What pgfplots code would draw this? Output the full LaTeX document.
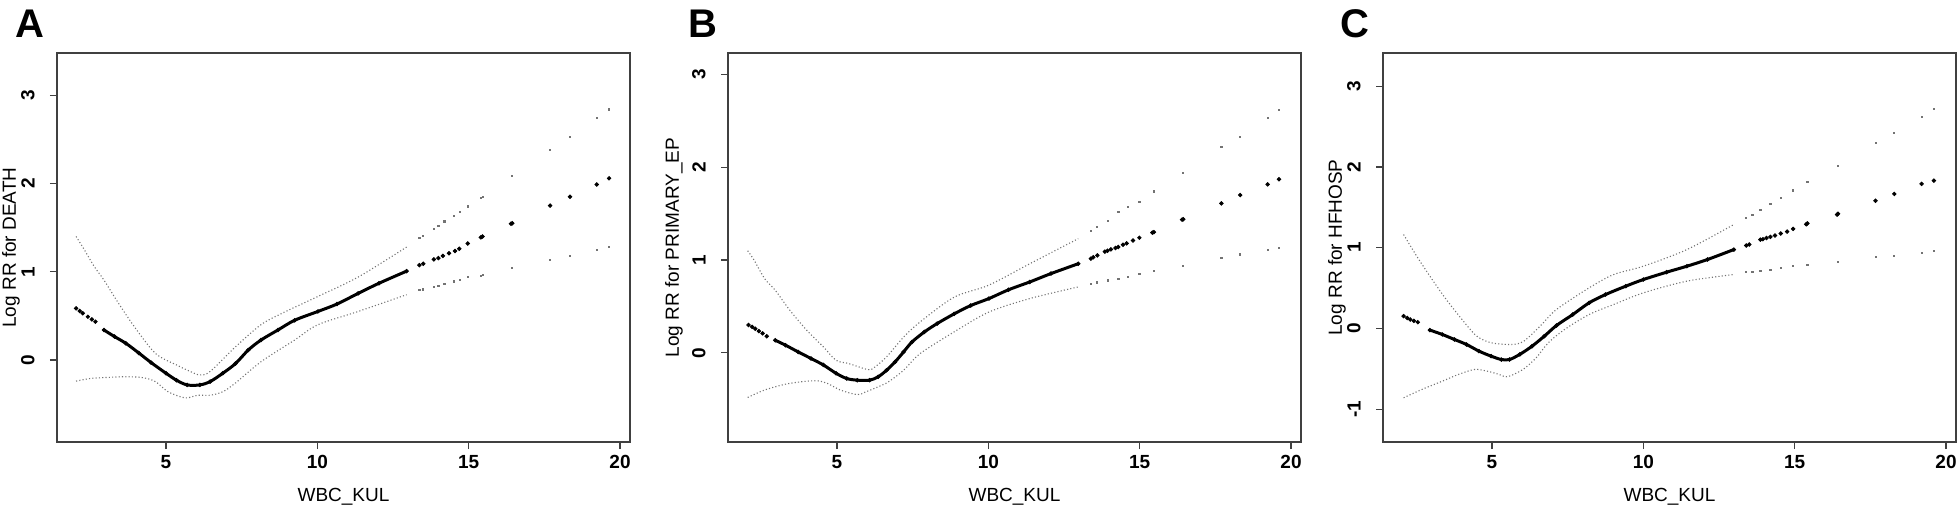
\documentclass[border=0pt]{standalone}
\usepackage{pgfplots}
\pgfplotsset{compat=1.18}
\usepackage{pgfplotstable}
\usepackage{fontspec}
\setmainfont{Liberation Sans}

% ---------------- Panel A (DEATH) ----------------
\pgfplotstableread{
x y
2.03 0.585
2.15 0.555
2.25 0.53
2.42 0.49
2.55 0.46
2.67 0.434
2.95 0.34
3.30 0.265
3.67 0.19
4.10 0.08
4.51 -0.03
5.00 -0.15
5.35 -0.23
5.70 -0.283
6.12 -0.283
6.46 -0.245
6.88 -0.15
7.30 -0.04
7.72 0.113
8.14 0.226
8.70 0.34
9.25 0.45
10.02 0.55
10.65 0.634
11.35 0.755
12.04 0.87
12.95 1.007
13.37 1.075
13.50 1.09
13.85 1.14
14.00 1.155
14.15 1.18
14.35 1.21
14.55 1.235
14.69 1.26
14.97 1.32
15.40 1.39
15.46 1.40
16.40 1.545
16.44 1.55
17.69 1.75
18.35 1.85
19.23 1.99
19.64 2.06
}\mainA
\pgfplotstableread{
x y
2.03 1.40
2.25 1.28
2.63 1.06
2.95 0.906
3.40 0.66
3.95 0.38
4.65 0.075
5.35 -0.057
5.80 -0.13
6.12 -0.17
6.46 -0.13
7.30 0.15
8.14 0.40
8.84 0.53
10.02 0.72
11.35 0.94
12.95 1.28
13.37 1.38
13.50 1.41
13.85 1.49
14.00 1.52
14.20 1.57
14.50 1.63
14.70 1.68
14.97 1.74
15.40 1.84
15.46 1.85
16.44 2.09
17.69 2.38
18.35 2.53
19.23 2.74
19.64 2.84
}\upA
\pgfplotstableread{
x y
2.03 -0.24
2.50 -0.21
2.95 -0.20
3.67 -0.19
4.23 -0.20
4.65 -0.245
5.07 -0.36
5.63 -0.43
6.05 -0.40
6.46 -0.40
6.88 -0.36
7.30 -0.26
8.14 -0.02
9.25 0.226
10.02 0.40
11.35 0.55
12.95 0.74
13.37 0.79
13.50 0.80
13.85 0.83
14.00 0.84
14.20 0.86
14.50 0.89
14.70 0.91
14.97 0.94
15.40 0.955
15.46 0.96
16.44 1.04
17.69 1.13
18.35 1.18
19.23 1.25
19.64 1.28
}\loA

% ---------------- Panel B (PRIMARY_EP) ----------------
\pgfplotstableread{
x y
2.08 0.30
2.20 0.28
2.30 0.26
2.42 0.235
2.54 0.21
2.68 0.18
2.96 0.136
3.30 0.083
3.72 0.01
4.14 -0.06
4.55 -0.13
4.97 -0.22
5.32 -0.276
5.67 -0.294
6.08 -0.294
6.36 -0.258
6.64 -0.187
6.92 -0.097
7.20 0.01
7.48 0.118
7.89 0.226
8.31 0.316
8.87 0.42
9.42 0.51
10.02 0.585
10.67 0.68
11.37 0.764
12.07 0.854
12.97 0.96
13.39 1.015
13.47 1.03
13.60 1.05
13.85 1.09
13.94 1.10
14.05 1.115
14.20 1.13
14.29 1.14
14.45 1.165
14.57 1.18
14.78 1.21
14.99 1.24
15.42 1.295
15.47 1.30
16.40 1.435
16.44 1.44
17.70 1.61
18.32 1.70
19.23 1.815
19.60 1.87
}\mainB
\pgfplotstableread{
x y
2.05 1.10
2.26 1.00
2.61 0.80
2.96 0.675
3.44 0.46
4.00 0.244
4.55 0.065
4.97 -0.08
5.39 -0.115
6.02 -0.18
6.22 -0.16
6.64 -0.043
7.20 0.17
7.75 0.334
8.87 0.60
10.02 0.73
11.37 0.96
12.97 1.23
13.39 1.31
13.60 1.36
13.94 1.42
14.30 1.52
14.60 1.57
14.99 1.625
15.47 1.74
16.44 1.94
17.70 2.22
18.32 2.33
19.23 2.53
19.60 2.62
}\upB
\pgfplotstableread{
x y
2.05 -0.48
2.61 -0.40
3.30 -0.337
3.86 -0.31
4.35 -0.30
4.69 -0.33
5.11 -0.40
5.67 -0.45
5.95 -0.42
6.36 -0.366
6.71 -0.31
7.20 -0.187
7.75 -0.007
8.87 0.226
10.02 0.44
11.37 0.585
12.97 0.71
13.39 0.746
13.60 0.76
13.94 0.78
14.30 0.80
14.60 0.82
14.99 0.847
15.47 0.88
16.44 0.936
17.70 1.02
18.32 1.06
19.23 1.105
19.60 1.134
}\loB

% ---------------- Panel C (HFHOSP) ----------------
\pgfplotstableread{
x y
2.08 0.153
2.20 0.13
2.30 0.11
2.42 0.095
2.55 0.078
2.95 -0.02
3.36 -0.074
3.76 -0.136
4.16 -0.198
4.57 -0.28
4.97 -0.342
5.31 -0.384
5.58 -0.384
5.92 -0.32
6.32 -0.22
6.73 -0.095
7.13 0.037
7.67 0.173
8.21 0.318
8.75 0.42
9.42 0.524
10.00 0.606
10.77 0.697
11.44 0.771
12.12 0.854
12.99 0.977
13.40 1.027
13.50 1.04
13.87 1.10
13.95 1.105
14.07 1.12
14.20 1.134
14.35 1.15
14.54 1.175
14.75 1.20
14.95 1.233
15.38 1.29
15.42 1.30
16.40 1.41
16.43 1.42
17.67 1.58
18.29 1.666
19.19 1.79
19.60 1.83
}\mainC
\pgfplotstableread{
x y
2.08 1.163
2.48 0.915
2.95 0.647
3.49 0.359
4.10 0.07
4.50 -0.095
4.97 -0.177
5.65 -0.198
6.05 -0.157
6.59 0.029
7.13 0.235
8.21 0.503
9.02 0.668
10.00 0.771
11.44 0.977
12.99 1.287
13.40 1.369
13.60 1.41
13.87 1.472
14.20 1.54
14.54 1.616
14.95 1.71
15.42 1.81
16.43 2.017
17.67 2.297
18.29 2.42
19.19 2.62
19.60 2.72
}\upC
\pgfplotstableread{
x y
2.08 -0.858
2.68 -0.755
3.36 -0.652
3.89 -0.569
4.43 -0.507
4.84 -0.528
5.24 -0.569
5.44 -0.598
5.65 -0.58
6.05 -0.50
6.46 -0.363
6.86 -0.177
7.40 -0.012
8.21 0.173
9.02 0.297
10.00 0.441
11.44 0.586
12.99 0.668
13.40 0.697
13.60 0.70
13.87 0.709
14.20 0.73
14.54 0.75
14.95 0.771
15.42 0.792
16.43 0.82
17.67 0.882
18.29 0.903
19.19 0.936
19.60 0.957
}\loC

\pgfplotsset{
  rrpanel/.style={
    scale only axis, width=286.5pt, height=194.5pt,
    xmin=1.40, xmax=20.33,
    xtick={5,10,15,20},
    tick pos=left, tick align=outside, major tick length=3.5pt,
    axis line style={draw=black!75, line width=0.75pt},
    every tick/.style={draw=black!75, line width=0.6pt},
    /pgf/number format/assume math mode=true,
    ticklabel style={font=\fontsize{9.5}{10}\selectfont\bfseries},
    xticklabel style={anchor=north, inner sep=0pt, yshift=-3pt},
    yticklabel style={rotate=90, anchor=south, inner sep=0pt, yshift=7.5pt},
    every axis x label/.style={at={(axis description cs:0.5,0)}, anchor=center, yshift=-27.5pt, font=\fontsize{9.5}{10}\selectfont},
    every axis y label/.style={at={(axis description cs:0,0.5)}, anchor=center, rotate=90, font=\fontsize{9.5}{10}\selectfont},
    xlabel={WBC\_KUL},
  },
  ciline/.style={draw=black!55, line width=0.55pt, dash pattern=on 0.55pt off 1.1pt, no markers, smooth, tension=0.5, restrict x to domain=0:13.1},
  cidots/.style={only marks, mark=square*, mark size=0.3pt, color=black!55, restrict x to domain=13.2:21},
  mainline/.style={draw=black, line width=1.5pt, no markers, smooth, tension=0.5, restrict x to domain=2.9:13.0},
  maindots/.style={only marks, mark=*, mark size=0.9pt, color=black},
}

\begin{document}
\begin{tikzpicture}
\useasboundingbox (0,0) rectangle (980pt,-254pt);

% Panel A
\begin{axis}[rrpanel, at={(28.5pt,-221pt)}, anchor=south west,
  ymin=-0.93, ymax=3.48, ytick={0,1,2,3},
  ylabel={Log RR for DEATH}, ylabel style={yshift=23pt}]
\addplot[ciline] table {\upA};
\addplot[cidots] table {\upA};
\addplot[ciline] table {\loA};
\addplot[cidots] table {\loA};
\addplot[mainline] table {\mainA};
\addplot[maindots] table {\mainA};
\end{axis}

% Panel B
\begin{axis}[rrpanel, at={(364pt,-221pt)}, anchor=south west,
  ymin=-0.96, ymax=3.23, ytick={0,1,2,3},
  ylabel={Log RR for PRIMARY\_EP}, ylabel style={yshift=27pt}]
\addplot[ciline] table {\upB};
\addplot[cidots] table {\upB};
\addplot[ciline] table {\loB};
\addplot[cidots] table {\loB};
\addplot[mainline] table {\mainB};
\addplot[maindots] table {\mainB};
\end{axis}

% Panel C
\begin{axis}[rrpanel, at={(691.5pt,-221pt)}, anchor=south west,
  ymin=-1.405, ymax=3.41, ytick={-1,0,1,2,3},
  ylabel={Log RR for HFHOSP}, ylabel style={yshift=23pt}]
\addplot[ciline] table {\upC};
\addplot[cidots] table {\upC};
\addplot[ciline] table {\loC};
\addplot[cidots] table {\loC};
\addplot[mainline] table {\mainC};
\addplot[maindots] table {\mainC};
\end{axis}

\node[font=\fontsize{20}{20}\selectfont\bfseries, anchor=base] at (15pt,-19pt) {A};
\node[font=\fontsize{20}{20}\selectfont\bfseries, anchor=base] at (351.5pt,-19pt) {B};
\node[font=\fontsize{20}{20}\selectfont\bfseries, anchor=base] at (677.5pt,-19pt) {C};
\end{tikzpicture}
\end{document}
